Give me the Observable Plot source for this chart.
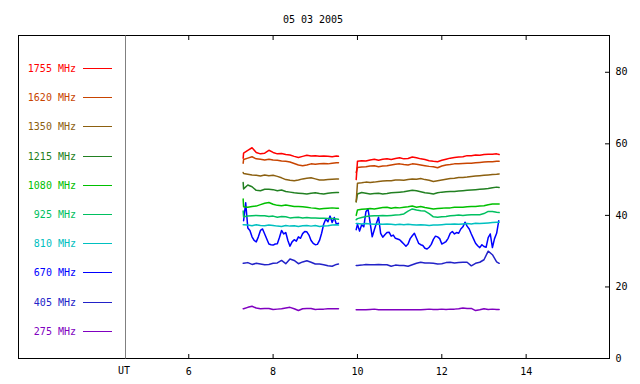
<!DOCTYPE html>
<html><head><meta charset="utf-8">
<script src="https://cdn.jsdelivr.net/npm/d3@7"></script>
<script src="https://cdn.jsdelivr.net/npm/@observablehq/plot@0.6"></script>
<style>
body{margin:0;background:#fff;}
#wrap{position:relative;width:640px;height:384px;font-family:"DejaVu Sans Mono",monospace;}
#wrap svg{position:absolute;left:0;top:0;}
</style></head>
<body><div id="wrap"></div>
<script>
// ---- data ----
const title = "05 03 2005";
const xTicks = [6, 8, 10, 12, 14];
const yTicks = [0, 20, 40, 60, 80];
const freqLabels = ["1755 MHz","1620 MHz","1350 MHz","1215 MHz","1080 MHz","925 MHz","810 MHz","670 MHz","405 MHz","275 MHz"];
const freqColors = ["#ff0000","#c84400","#8c6010","#228022","#00c000","#00c060","#00c0c0","#0000ff","#2222c8","#8000c0"];

const tLeft = [7.29,7.3,7.4,7.5,7.6,7.7,7.8,7.9,8.0,8.1,8.2,8.3,8.4,8.5,8.6,8.7,8.8,8.9,9.0,9.1,9.2,9.3,9.4,9.5,9.55];
const tRight = [9.97,10.0,10.1,10.2,10.3,10.4,10.5,10.6,10.7,10.8,10.9,11.0,11.1,11.2,11.3,11.4,11.5,11.6,11.7,11.8,11.9,12.0,12.1,12.2,12.3,12.4,12.5,12.6,12.7,12.8,12.9,13.0,13.1,13.2,13.3,13.36];
const tLeftFine = [7.30,7.35,7.40,7.45,7.50,7.55,7.60,7.65,7.70,7.75,7.80,7.85,7.90,7.95,8.00,8.05,8.10,8.15,8.20,8.25,8.30,8.35,8.40,8.45,8.50,8.55,8.60,8.65,8.70,8.75,8.80,8.85,8.90,8.95,9.00,9.05,9.10,9.15,9.20,9.25,9.30,9.35,9.40,9.45,9.50,9.55];
const tRightFine = [9.97,10.00,10.05,10.10,10.15,10.20,10.25,10.30,10.35,10.40,10.45,10.50,10.55,10.60,10.65,10.70,10.75,10.80,10.85,10.90,10.95,11.00,11.05,11.10,11.15,11.20,11.25,11.30,11.35,11.40,11.45,11.50,11.55,11.60,11.65,11.70,11.75,11.80,11.85,11.90,11.95,12.00,12.05,12.10,12.15,12.20,12.25,12.30,12.35,12.40,12.45,12.50,12.55,12.60,12.65,12.70,12.75,12.80,12.85,12.90,12.95,13.00,13.05,13.10,13.15,13.20,13.25,13.30,13.35];

const f1755L = [56.0,57.4,58.2,58.9,57.6,57.2,57.4,58.2,57.6,57.2,57.3,57.0,56.9,56.5,56.2,56.5,56.8,56.6,56.7,56.5,56.6,56.5,56.4,56.6,56.5];
const f1755R = [50.0,55.1,55.3,55.2,55.5,55.7,55.4,55.7,55.8,55.6,55.9,56.1,55.8,55.9,56.3,56.1,55.8,55.6,55.3,55.1,55.0,55.4,55.7,56.0,56.2,56.3,56.4,56.7,56.7,56.9,56.8,57.0,57.1,57.1,57.2,57.0];
const f1620L = [54.6,55.6,56.0,56.4,55.8,55.7,55.5,55.7,55.5,55.4,55.2,55.1,54.9,54.5,54.1,53.9,54.1,54.4,54.3,54.4,54.5,54.4,54.6,54.7,54.7];
const f1620R = [52.0,53.4,53.5,53.6,53.8,53.9,53.6,53.8,53.9,54.1,54.3,54.4,54.2,54.1,54.4,54.3,54.1,53.9,53.7,53.6,53.3,53.8,54.1,54.2,54.4,54.4,54.5,54.6,54.6,54.7,54.8,54.9,55.0,55.0,55.1,55.1];
const f1350L = [52.0,51.7,51.5,51.3,51.2,51.0,51.3,51.1,51.2,50.9,50.5,50.0,49.8,49.7,49.9,50.2,50.4,50.5,50.2,49.9,49.9,50.0,50.1,50.2,50.2];
const f1350R = [43.8,49.0,49.1,49.3,49.2,49.3,49.5,49.6,49.7,49.7,49.9,49.9,49.8,50.0,50.2,50.1,50.3,50.0,49.8,49.5,49.7,49.9,50.1,50.3,50.4,50.6,50.6,50.7,50.9,51.0,51.1,51.2,51.3,51.4,51.5,51.6];
const f1215L = [49.2,47.4,48.5,48.0,47.0,46.9,47.3,47.3,47.2,46.9,47.1,46.7,46.5,46.3,46.2,46.1,46.0,46.2,46.3,46.1,46.0,46.2,46.3,46.4,46.4];
const f1215R = [43.8,46.0,46.4,46.2,46.0,46.1,46.2,46.0,46.1,46.3,46.4,46.5,46.6,46.8,47.0,46.9,46.6,46.3,46.2,46.0,46.3,46.5,46.6,46.7,46.7,46.8,46.9,47.0,47.1,47.2,47.3,47.4,47.5,47.7,47.9,47.8];
const f1080L = [44.6,42.4,42.3,42.5,42.6,43.0,43.4,43.6,43.1,42.8,42.7,42.9,42.7,42.5,42.5,42.4,42.3,42.1,42.0,41.8,41.9,42.0,42.1,42.0,42.0];
const f1080R = [40.0,41.5,41.7,41.8,41.9,41.8,42.0,42.2,42.3,42.0,42.2,42.1,42.3,42.4,42.6,42.3,42.5,42.2,42.0,41.8,41.9,42.0,42.1,42.1,42.3,42.3,42.3,42.4,42.5,42.5,42.6,42.7,43.0,43.2,43.2,43.2];
const f925L = [41.2,39.6,39.8,39.9,40.0,39.9,39.9,39.7,39.8,39.5,39.7,39.6,39.3,39.4,39.5,39.3,39.4,39.3,39.3,39.2,39.2,39.1,39.1,39.0,38.9];
const f925R = [38.8,39.1,39.4,39.7,39.8,39.9,39.9,40.0,39.9,40.0,40.1,40.2,40.4,41.2,41.8,41.5,41.3,41.2,40.5,39.6,39.5,39.6,39.7,39.9,40.0,40.1,40.0,40.1,40.2,40.2,40.2,40.5,41.1,41.1,40.9,40.8];
const f810L = [37.4,37.4,37.3,37.1,37.4,37.2,37.1,37.3,37.2,37.0,36.9,37.2,37.0,37.1,36.9,37.1,37.2,37.0,37.2,36.9,37.0,37.1,37.3,37.4,37.3];
const f810R = [37.7,37.7,37.6,37.7,37.6,37.5,37.6,37.5,37.6,37.5,37.4,37.5,37.4,37.5,37.4,37.3,37.4,37.3,37.2,37.3,37.3,37.4,37.5,37.5,37.6,37.5,37.6,37.7,37.6,37.8,37.7,37.8,37.9,38.0,38.1,38.1];
const f670L = [38.5,43.5,36.5,35.8,34.0,33.0,32.6,34.0,35.8,36.2,34.8,33.4,32.0,31.8,31.7,32.0,32.1,33.8,35.8,34.8,35.2,33.0,31.4,32.6,33.2,32.8,34.0,33.6,34.9,35.5,35.4,34.5,33.0,32.2,31.8,31.9,33.0,35.0,37.6,39.0,38.2,39.8,38.0,39.4,37.5,37.8];
const f670R = [36.0,37.5,35.6,37.4,36.8,41.0,41.8,38.0,34.0,36.0,37.8,39.5,35.0,33.9,34.6,35.2,35.3,34.2,34.5,33.6,33.4,33.2,32.6,32.0,31.4,32.0,33.5,34.3,35.0,33.6,32.2,31.8,31.6,30.8,30.6,31.1,31.9,33.3,34.2,34.0,33.5,32.0,32.3,32.7,33.6,35.0,35.5,34.8,35.2,35.0,36.2,36.8,38.1,37.0,36.2,34.8,33.5,32.2,31.5,31.0,31.8,31.3,31.1,33.8,34.8,31.0,33.5,35.0,38.5];
const f405L = [26.6,26.6,26.8,26.3,26.6,26.4,26.2,26.3,26.6,26.7,27.4,26.5,27.8,27.4,26.5,27.0,27.3,26.9,26.4,26.4,26.2,25.9,25.8,26.3,26.4];
const f405R = [26.0,26.0,26.1,26.3,26.2,26.2,26.3,26.2,26.2,25.8,26.1,26.0,26.0,25.8,26.2,26.6,26.9,26.7,26.7,26.6,26.4,26.5,26.8,26.9,26.7,26.8,26.9,26.9,25.9,26.6,26.9,27.6,30.0,29.0,27.0,26.6];
const f275L = [13.9,13.9,14.3,14.6,14.1,13.9,14.0,14.0,13.7,13.8,13.9,14.1,14.3,13.9,13.4,13.9,14.0,14.0,13.7,13.8,13.8,13.9,13.9,13.9,13.9];
const f275R = [13.6,13.6,13.6,13.6,13.7,13.8,13.6,13.6,13.6,13.6,13.6,13.6,13.6,13.6,13.6,13.6,13.6,13.7,13.8,13.7,13.7,13.8,13.7,13.8,13.8,13.9,14.1,14.0,14.0,13.4,13.6,13.9,13.7,13.8,13.7,13.7];

const seriesLeft = [f1755L,f1620L,f1350L,f1215L,f1080L,f925L,f810L,f670L,f405L,f275L];
const seriesRight = [f1755R,f1620R,f1350R,f1215R,f1080R,f925R,f810R,f670R,f405R,f275R];

// ---- layout ----
const W = 640, H = 384, mL = 125, mR = 30, mT = 36, mB = 26;
const plotW = W - mL - mR, plotH = H - mT - mB;

const marks = [];
for (let i = seriesLeft.length - 1; i >= 0; i--) {
  const fine = freqLabels[i] === "670 MHz";
  const segs = [[fine ? tLeftFine : tLeft, seriesLeft[i]], [fine ? tRightFine : tRight, seriesRight[i]]];
  for (const [ts, vs] of segs) {
    marks.push(Plot.line(ts.map((t, k) => ({t, v: vs[k]})), {x: "t", y: "v", stroke: freqColors[i], strokeWidth: 1.5}));
  }
}

const chart = Plot.plot({
  width: W, height: H,
  marginLeft: mL, marginRight: mR, marginTop: mT, marginBottom: mB,
  style: {fontFamily: "DejaVu Sans Mono, monospace", fontSize: "10px", background: "transparent", color: "#000"},
  x: {domain: [4.5, 16]},
  y: {domain: [0, 90]},
  marks: [
    ...marks,
    Plot.ruleX(xTicks, {x: d => d, insetTop: plotH - 4, stroke: "#000"}),
    Plot.ruleX(xTicks, {x: d => d, insetBottom: plotH - 4, stroke: "#000"}),
    Plot.ruleY(yTicks, {y: d => d, insetLeft: plotW - 5, stroke: "#000"}),
    Plot.axisX({anchor: "bottom", ticks: xTicks, tickSize: 0, tickPadding: 9, tickFormat: d => String(d), label: null, fontSize: 10}),
    Plot.axisY({anchor: "right", ticks: yTicks, tickSize: 0, tickPadding: 5, tickFormat: d => String(d), label: null, fontSize: 10})
  ]
});

const wrap = document.getElementById("wrap");
wrap.appendChild(chart);

// overlay: frame, legend panel, title
const ov = d3.select(wrap).append("svg").attr("width", W).attr("height", H)
  .style("font-family", "DejaVu Sans Mono, monospace").style("font-size", "10px");
ov.append("rect").attr("x", 18.5).attr("y", 35.5).attr("width", 591).attr("height", 323)
  .attr("fill", "none").attr("stroke", "#000");
ov.append("line").attr("x1", 125.5).attr("x2", 125.5).attr("y1", 35.5).attr("y2", 358.5).attr("stroke", "#808080");
ov.append("text").attr("x", 313).attr("y", 19).attr("text-anchor", "middle").attr("dy", "0.35em").text(title);
ov.append("text").attr("x", 124).attr("y", 370).attr("text-anchor", "middle").attr("dy", "0.35em").text("UT");
freqLabels.forEach((lab, i) => {
  const y = Math.round(68 + i * 29.2) + 0.5;
  ov.append("text").attr("x", 76).attr("y", y).attr("dy", "0.35em").attr("text-anchor", "end")
    .attr("fill", freqColors[i]).text(lab);
  ov.append("line").attr("x1", 83).attr("x2", 112).attr("y1", y).attr("y2", y).attr("stroke", freqColors[i]);
});
</script>
</body></html>
